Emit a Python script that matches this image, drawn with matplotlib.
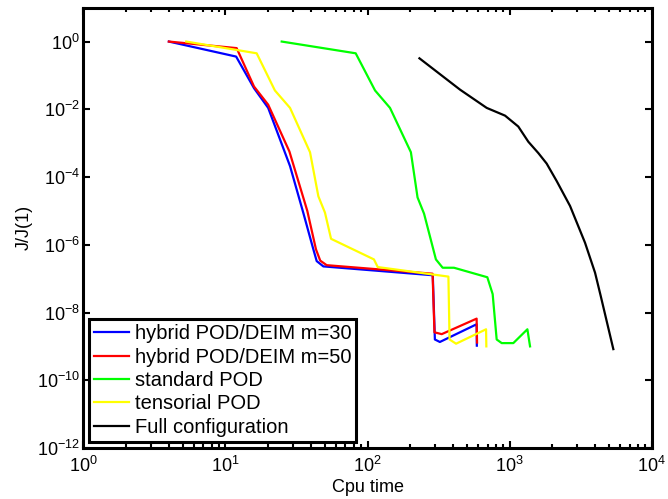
import matplotlib
matplotlib.use("Agg")
import matplotlib.pyplot as plt
from matplotlib.ticker import LogLocator, NullLocator

plt.rcParams['font.family'] = ['Liberation Sans', 'DejaVu Sans']
plt.rcParams['mathtext.fontset'] = 'custom'
plt.rcParams['mathtext.rm'] = 'Liberation Sans'

# hybrid POD/DEIM m=30
t_h30 = [4.0, 11.9, 15.9, 20.0, 28.5, 35.3, 41.6, 43.9, 48.9, 288, 298, 323, 586, 588]
j_h30 = [1.0, 0.36, 0.042, 0.011, 2.1e-4, 8.9e-6, 7.3e-7, 3.3e-7, 2.3e-7, 1.26e-7,
         1.6e-9, 1.35e-9, 4.5e-9, 1.05e-9]

# hybrid POD/DEIM m=50
t_h50 = [4.0, 12.0, 15.9, 20.0, 28.2, 37.7, 43.4, 46.5, 51.6, 287, 296, 333, 586, 590]
j_h50 = [1.0, 0.64, 0.047, 0.0137, 5.7e-4, 1e-5, 7.3e-7, 3.4e-7, 2.5e-7, 1.4e-7,
         2.6e-9, 2.3e-9, 6.6e-9, 1.3e-9]

# standard POD
t_std = [24.9, 82.6, 113, 144, 202, 225, 250, 303, 338, 406, 697, 760, 811, 880, 1062, 1334, 1393]
j_std = [1.0, 0.45, 0.036, 0.011, 5.4e-4, 2.5e-5, 8.3e-6, 3.7e-7, 2.1e-7, 2.1e-7,
         1.1e-7, 3.5e-8, 1.6e-9, 1.25e-9, 1.25e-9, 3.2e-9, 1e-9]

# tensorial POD
t_ten = [5.3, 16.6, 22.3, 28.5, 39.4, 45.1, 50.2, 55.4, 111, 118, 371, 378, 420, 683, 686]
j_ten = [1.0, 0.45, 0.036, 0.011, 5.4e-4, 2.7e-5, 8.9e-6, 1.5e-6, 3.7e-7, 2.2e-7,
         1.15e-7, 1.6e-9, 1.2e-9, 3.2e-9, 1e-9]

# Full configuration
t_full = [232, 448, 690, 929, 1151, 1355, 1593, 1823, 2145, 2663, 3394, 3993, 4376, 5370]
j_full = [0.32, 0.038, 0.011, 6.5e-3, 3.1e-3, 1.1e-3, 5.1e-4, 2.5e-4, 7.6e-5, 1.4e-5,
          1.15e-6, 1.5e-7, 3.1e-8, 8.3e-10]

fig = plt.figure(figsize=(6.68, 4.99), dpi=100)
ax = fig.add_axes([0.1247, 0.1022, 0.8509, 0.8824])

ax.loglog(t_h30, j_h30, color=(0, 0, 1), lw=1.6, label='hybrid POD/DEIM m=30')
ax.loglog(t_h50, j_h50, color=(1, 0, 0), lw=1.6, label='hybrid POD/DEIM m=50')
ax.loglog(t_std, j_std, color=(0, 1, 0), lw=1.6, label='standard POD')
ax.loglog(t_ten, j_ten, color=(1, 1, 0), lw=1.6, label='tensorial POD')
ax.loglog(t_full, j_full, color='k', lw=1.6, label='Full configuration')

ax.set_xlim(1, 1e4)
ax.set_ylim(1e-12, 1e1)
ax.xaxis.set_major_locator(LogLocator(base=10, numticks=10))
ax.xaxis.set_minor_locator(LogLocator(base=10, subs=range(2, 10), numticks=20))
ax.set_yticks([1e-12, 1e-10, 1e-8, 1e-6, 1e-4, 1e-2, 1e0])
ax.yaxis.set_minor_locator(NullLocator())

ax.tick_params(which='both', direction='in', top=True, right=True, labelsize=13, width=1.5)
ax.tick_params(which='major', length=5)
ax.tick_params(which='minor', length=3)
ax.tick_params(axis='x', pad=5.5)
ax.tick_params(axis='y', pad=2.5)
for s in ax.spines.values():
    s.set_linewidth(2.2)

ax.set_xlabel('Cpu time', fontsize=13, labelpad=2)
ax.set_ylabel('J/J(1)', fontsize=13, labelpad=3)

leg = ax.legend(loc='lower left', fontsize=14.5, fancybox=False, framealpha=1,
                edgecolor='k', borderaxespad=0.3, handlelength=1.7,
                labelspacing=0.22, handletextpad=0.3, borderpad=0.25)
leg.get_frame().set_linewidth(2.2)

fig.savefig('out.png', dpi=100)
